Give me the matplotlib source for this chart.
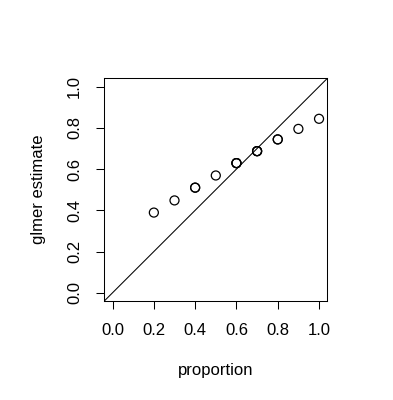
import matplotlib
matplotlib.use("Agg")
import matplotlib.pyplot as plt

plt.rcParams['font.family'] = ['Liberation Sans', 'DejaVu Sans']

proportion = [0.2, 0.3, 0.4, 0.4, 0.5, 0.6, 0.6, 0.6, 0.7, 0.7, 0.7, 0.8, 0.8, 0.9, 1.0]
estimate = [0.389, 0.448, 0.510, 0.510, 0.569, 0.629, 0.629, 0.629, 0.687, 0.687, 0.687, 0.744, 0.744, 0.795, 0.844]
ticks = [0.0, 0.2, 0.4, 0.6, 0.8, 1.0]
tick_labels = ["0.0", "0.2", "0.4", "0.6", "0.8", "1.0"]

fig = plt.figure(figsize=(3.93, 4.0), dpi=100)
ax = fig.add_axes([0.2654, 0.2475, 0.5674, 0.5565])

ax.scatter(proportion, estimate, s=42, facecolors='none', edgecolors='black', linewidths=0.9, zorder=3)
ax.axline((0, 0), slope=1, color='black', linewidth=0.75)

ax.set_xlim(-0.04, 1.04)
ax.set_ylim(-0.04, 1.04)
ax.set_xticks(ticks)
ax.set_xticklabels(tick_labels)
ax.set_yticks(ticks)
ax.set_yticklabels(tick_labels, rotation=90, va='center')

for sp in ax.spines.values():
    sp.set_linewidth(0.75)
ax.tick_params(axis='both', length=6, width=0.75, labelsize=12, direction='out')
ax.tick_params(axis='x', pad=10)
ax.tick_params(axis='y', pad=10)

ax.set_xlabel("proportion", fontsize=12)
ax.xaxis.set_label_coords(0.5, -0.31)
ax.xaxis.label.set_va('center')
ax.set_ylabel("glmer estimate", fontsize=12)
ax.yaxis.set_label_coords(-0.295, 0.5)
ax.yaxis.label.set_va('center')

fig.savefig("out.png", dpi=100)
